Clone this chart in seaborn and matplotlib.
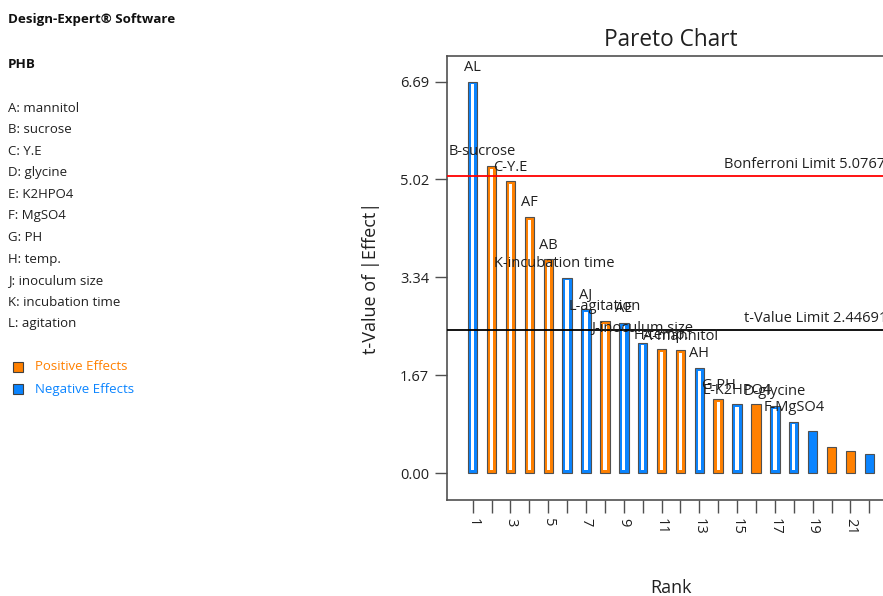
import matplotlib
matplotlib.use("Agg")
import matplotlib.pyplot as plt
from matplotlib.patches import Rectangle
import seaborn as sns
import numpy as np
import pandas as pd

# data
ranks = list(range(1, 23))
t_values = [6.69, 5.25, 4.99, 4.38, 3.65, 3.34, 2.80, 2.60, 2.57, 2.23, 2.12,
            2.10, 1.80, 1.26, 1.18, 1.18, 1.15, 0.88, 0.71, 0.45, 0.38, 0.33]
effect = ["neg", "pos", "pos", "pos", "pos", "neg", "neg", "pos", "neg", "neg", "pos",
          "pos", "neg", "pos", "neg", "pos", "neg", "neg", "neg", "pos", "pos", "neg"]
term_labels = ["AL", "B-sucrose", "C-Y.E", "AF", "AB", "K-incubation time", "AJ",
               "L-agitation", "AE", "J-inoculum size", "H-temp.", "A-mannitol", "AH",
               "G-PH", "E-K2HPO4", "", "D-glycine", "F-MgSO4", "", "", "", ""]
hollow = [True] * 15 + [False, True, True, False, False, False, False]
t_max = 6.688
bonferroni = 5.07679
t_limit = 2.44691
factors = ["A: mannitol", "B: sucrose", "C: Y.E", "D: glycine", "E: K2HPO4",
           "F: MgSO4", "G: PH", "H: temp.", "J: inoculum size",
           "K: incubation time", "L: agitation"]

ORANGE = "#FF8000"
BLUE = "#0A84FF"

df = pd.DataFrame({"rank": ranks, "t": t_values, "effect": effect,
                   "label": term_labels, "hollow": hollow})

plt.rcParams["font.family"] = ["Open Sans", "DejaVu Sans"]

fig = plt.figure(figsize=(8.83, 5.96), dpi=100)
ax = fig.add_axes([447 / 883, 96 / 596, 448 / 883, 444 / 596])

sns.barplot(data=df, x="rank", y="t", hue="effect", palette={"pos": ORANGE, "neg": BLUE},
            native_scale=True, width=0.5, dodge=False, saturation=1,
            edgecolor="#505050", linewidth=0.8, legend=False, ax=ax)

# white cores for the outlined bars
h = df[df.hollow]
ax.bar(h["rank"], h["t"] - 0.1, bottom=0.05, width=0.18, color="white", linewidth=0, zorder=3)

# term labels
shift = {"B-sucrose": -0.48, "K-incubation time": -0.7}
for _, r in df.iterrows():
    if r["label"]:
        ax.annotate(r["label"], (r["rank"] + shift.get(r["label"], 0), r["t"]),
                    xytext=(0, 10), textcoords="offset points",
                    ha="center", va="center", fontsize=10.5, color="#202020", zorder=5)

ax.axhline(bonferroni, color="#FF0000", lw=1.3, zorder=4)
ax.axhline(t_limit, color="black", lw=1.3, zorder=4)
ax.annotate("Bonferroni Limit %.5f" % bonferroni, (14.3, bonferroni), xytext=(0, 3),
            textcoords="offset points", va="bottom", fontsize=10.5, color="#202020")
ax.annotate("t-Value Limit %.5f" % t_limit, (15.35, t_limit), xytext=(0, 3),
            textcoords="offset points", va="bottom", fontsize=10.5, color="#202020")

ax.set_xlim(-0.36, 23.36)
ax.set_ylim(-0.461, 7.126)
yt = np.linspace(0, t_max, 5)
ax.set_yticks(yt)
ax.set_yticklabels(["%.2f" % v for v in yt])
ax.set_xticks(ranks)
ax.set_xticklabels([str(r) if r % 2 else "" for r in ranks], rotation=270)
ax.tick_params(axis="both", length=9, width=1, color="#505050", labelsize=10.5,
               labelcolor="#202020", pad=4)
for s in ax.spines.values():
    s.set_color("#505050")
    s.set_linewidth(1.2)

ax.set_title("Pareto Chart", fontsize=16.3, color="#202020", pad=7)
ax.set_xlabel("Rank", fontsize=13, color="#202020", labelpad=32)
ax.set_ylabel("t-Value of |Effect|", fontsize=13, color="#202020", labelpad=14)

# left info panel
fig.text(8 / 883, 1 - 20 / 596, "Design-Expert® Software", fontsize=9.6,
         fontweight="bold", va="center", color="#101010")
fig.text(8 / 883, 1 - 64 / 596, "PHB", fontsize=9.6, fontweight="bold",
         va="center", color="#101010")
for i, f in enumerate(factors):
    fig.text(8 / 883, 1 - (108 + i * 21.6) / 596, f, fontsize=9.5, va="center", color="#202020")
for j, (name, c) in enumerate([("Positive Effects", ORANGE), ("Negative Effects", BLUE)]):
    yc = 367 + j * 22
    fig.patches.append(Rectangle((13 / 883, 1 - (yc + 5) / 596), 10 / 883, 10 / 596,
                                 transform=fig.transFigure, facecolor=c,
                                 edgecolor="#404040", lw=0.8))
    fig.text(35 / 883, 1 - yc / 596, name, fontsize=9.5, va="center", color=c)

fig.savefig("out.png", dpi=100)
